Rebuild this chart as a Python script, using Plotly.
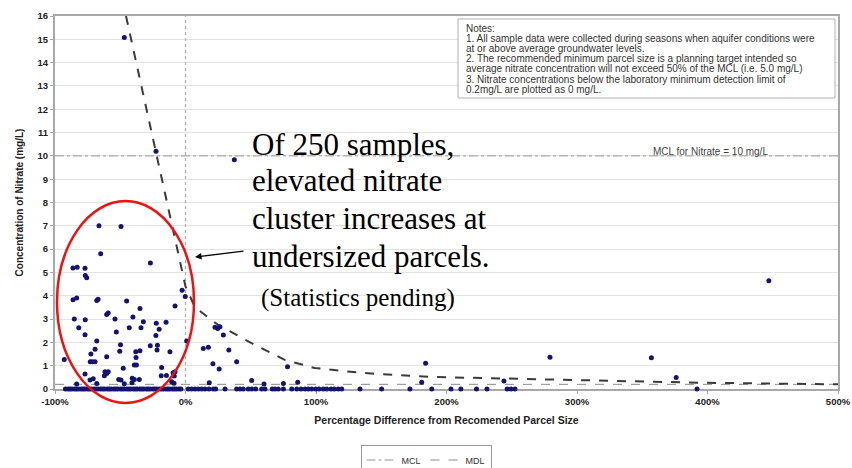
import plotly.graph_objects as go

# ---------------- data ----------------
# samples with detectable nitrate (x = % difference from recommended parcel size, y = mg/L)
det_x = [-92.9, -86.3, -83.0, -77.0, -76.8, -75.7, -86.2, -83.4, -68.0, -67.0,
         -85.2, -76.8, -81.8, -77.0, -68.0, -72.5, -73.0, -71.4, -69.3, -69.3,
         -60.4, -66.3, -49.4, -65.0, -60.4, -59.2, -54.0, -53.0, -49.8, -50.4,
         -61.7, -60.4, -59.2, -62.2, -77.0, -73.2, -70.7, -83.4, -68.0, -49.4,
         -47.7, -46.9, -45.1, -43.1, -40.3, -32.3, -38.1, -34.9, -37.9, -39.2,
         -37.6, -34.9, -34.1, -40.8, -39.2, -35.4, -41.0, -26.9, -22.4, -14.9,
         -20.2, -22.7, -27.0, -21.5, -21.8, -11.9, -18.3, -18.6, -14.6, -9.5,
         -8.6, -8.8, -8.0, -2.6, -0.2, 0.9, -46.9, -22.6, -10.6, -8.0,
         -51.2, 13.6, 17.5, 22.6, 24.7, 26.4, 29.0, 33.2, 39.2, 21.0,
         25.8, 18.2, 50.7, 60.2, 75.0, 78.2, 86.0, 181.0, 184.0, 244.0,
         279.3, 357.0, 376.0, 447.0, 37.4]
det_y = [1.27, 5.19, 5.22, 5.18, 4.87, 4.77, 3.83, 3.90, 3.80, 3.85,
         3.00, 2.97, 2.63, 2.33, 2.06, 1.50, 1.17, 1.17, 1.17, 1.70,
         1.38, 7.00, 6.97, 5.80, 3.20, 3.26, 3.00, 2.45, 1.90, 1.62,
         0.74, 0.67, 0.74, 0.57, 0.64, 0.39, 0.44, 0.21, 0.24, 0.39,
         0.89, 0.22, 3.77, 2.63, 3.09, 2.89, 1.60, 1.64, 1.35, 1.03,
         1.03, 3.45, 2.63, 0.46, 0.41, 0.41, 0.27, 5.41, 2.82, 2.86,
         2.56, 2.30, 1.86, 1.88, 1.67, 1.60, 0.92, 0.57, 0.58, 0.70,
         0.56, 0.25, 3.56, 4.24, 3.97, 2.06, 15.08, 10.20, 0.31, 0.74,
         0.41, 1.74, 1.79, 2.65, 2.60, 2.67, 2.32, 1.67, 1.17, 1.08,
         0.86, 0.27, 0.36, 0.21, 0.24, 0.95, 0.29, 0.29, 1.10, 0.34,
         1.36, 1.34, 0.49, 4.64, 9.83]

# samples below detection limit (plotted as 0 mg/L)
nd_x = [-92, -90, -88.5, -87, -85, -83.5, -82, -80, -78.5, -77, -75, -73.5, -72, -70,
        -68.5, -67, -65, -63.5, -62, -60, -58.5, -57, -55, -53.5, -52, -50, -48.5, -47,
        -45, -43.5, -42, -40, -38.5, -37, -35, -33.5, -32, -30, -28.5, -27, -25, -23.5,
        -22, -20, -18.5, -17, -15, -13.5, -12, -10, -8.5, -7, -5, -3.5,
        2.1, 4.7, 7.3, 9.8, 12.4, 14.9, 18, 21.3, 23.1, 30.3, 39.2, 41.8, 44.3, 48.1,
        50.7, 53.8, 58.4, 60.9, 66.5, 68.6, 71.1, 75, 81.4, 85.2, 88.5, 91.6, 94.1, 96.7,
        99.8, 102.3, 105.6, 108.2, 111.5, 114, 117, 119.7, 133.7, 150.3, 172, 188.7,
        203.4, 211, 223, 231, 246.5, 249.4, 252.5, 392]
nd_y = [0] * len(nd_x)

# recommended-parcel-size curve
curve_x = [-45.6, -22.6, -10, 0, 7.3, 24.9, 50.6, 76, 99, 135, 186, 241, 318, 394, 500]
curve_y = [16, 10.2, 7.0, 4.4, 3.5, 2.75, 1.97, 1.25, 0.9, 0.69, 0.52, 0.45, 0.37, 0.27, 0.2]

mcl_value = 10.0
mdl_value = 0.2
x_range = [-100, 500]
y_range = [0, 16]
x_ticks = [-100, 0, 100, 200, 300, 400, 500]
x_tick_labels = ["-100%", "0%", "100%", "200%", "300%", "400%", "500%"]
y_ticks = list(range(0, 17))

notes = ["Notes:",
         "1. All sample data were collected during seasons when aquifer conditions were",
         "at or above average groundwater levels.",
         "2. The recommended minimum parcel size is a planning target intended so",
         "average nitrate concentration will not exceed 50% of the MCL (i.e. 5.0 mg/L)",
         "3. Nitrate concentrations below the laboratory minimum detection limit of",
         "0.2mg/L are plotted as 0 mg/L."]
callout = ["Of 250 samples,", "elevated nitrate", "cluster increases at", "undersized parcels."]

# ---------------- layout helpers ----------------
W, H = 852, 468
L, R, T, B = 55, 838, 16, 389


def px(x):
    return (x - L) / (R - L)


def py(y):
    return (B - y) / (B - T)


fig = go.Figure()

fig.add_trace(go.Scatter(x=x_range, y=[mcl_value, mcl_value], mode="lines", name="MCL",
                         line=dict(color="#9a9a9a", width=1, dash="dashdot")))
fig.add_trace(go.Scatter(x=x_range, y=[mdl_value, mdl_value], mode="lines", name="MDL",
                         line=dict(color="#8a8a8a", width=1, dash="dash")))
fig.add_trace(go.Scatter(x=[0, 0], y=y_range, mode="lines", showlegend=False,
                         line=dict(color="#b0b0b0", width=1.3, dash="dot"), hoverinfo="skip"))
fig.add_trace(go.Scatter(x=curve_x, y=curve_y, mode="lines", showlegend=False,
                         line=dict(color="#3a3a3a", width=2, dash="dash")))
fig.add_trace(go.Scatter(x=nd_x + det_x, y=nd_y + det_y, mode="markers", showlegend=False,
                         cliponaxis=False,
                         marker=dict(color="#14146e", size=5)))

axis_font = dict(family="Arial, Liberation Sans", size=9.5, color="#222", weight="bold")

fig.update_layout(
    width=W, height=H,
    margin=dict(l=L, r=W - R, t=T, b=H - B, autoexpand=False),
    paper_bgcolor="white", plot_bgcolor="white",
    xaxis=dict(range=x_range, tickvals=x_ticks, ticktext=x_tick_labels, showgrid=False,
               zeroline=False, showline=True, linecolor="#a8a8a8", linewidth=2, mirror=True,
               ticks="outside", ticklen=3, tickcolor="#a8a8a8", tickfont=axis_font,
               layer="below traces", automargin=False,
               title=dict(text="Percentage Difference from Recomended Parcel Size",
                          font=dict(family="Arial, Liberation Sans", size=10.5, color="#222",
                                    weight="bold"), standoff=10)),
    yaxis=dict(range=y_range, tickvals=y_ticks, showgrid=True, gridcolor="#e3e3e3",
               zeroline=False, showline=True, linecolor="#a8a8a8", linewidth=2, mirror=True,
               ticks="outside", ticklen=3, tickcolor="#a8a8a8", tickfont=axis_font,
               layer="below traces", automargin=False,
               title=dict(text="Concentration of Nitrate (mg/L)",
                          font=dict(family="Arial, Liberation Sans", size=10, color="#222",
                                    weight="bold"), standoff=12)),
    legend=dict(orientation="h", x=px(426), y=py(460), xanchor="center", yanchor="middle",
                bordercolor="#999", borderwidth=1, font=dict(family="Arial", size=9, color="#333"),
                itemwidth=30, tracegroupgap=0),
    showlegend=True,
)

shapes = [
    dict(type="rect", xref="paper", yref="paper", x0=px(458), x1=px(835), y0=py(98), y1=py(19),
         line=dict(color="#b0b0b0", width=1), fillcolor="white", layer="above"),
    dict(type="circle", xref="paper", yref="paper", x0=px(57), x1=px(194), y0=py(403), y1=py(201),
         line=dict(color="#ee1111", width=2.5), layer="above"),
]
fig.update_layout(shapes=shapes)

ann = []
note_y = [28, 38.2, 48.4, 58.6, 68.8, 79, 89.2]
for t, yy in zip(notes, note_y):
    ann.append(dict(text=t, xref="paper", yref="paper", x=px(464), y=py(yy), xanchor="left",
                    yanchor="middle", showarrow=False,
                    font=dict(family="Arial, Liberation Sans", size=10, color="#333")))
ann.append(dict(text="MCL for Nitrate = 10 mg/L", xref="paper", yref="paper", x=px(651), y=py(151),
                xanchor="left", yanchor="middle", showarrow=False,
                font=dict(family="Arial, Liberation Sans", size=10, color="#444")))
call_y = [144, 181, 219, 256]
for t, yy in zip(callout, call_y):
    ann.append(dict(text=t, xref="paper", yref="paper", x=px(250), y=py(yy), xanchor="left",
                    yanchor="middle", showarrow=False,
                    font=dict(family="Liberation Serif, Times New Roman", size=31, color="black")))
ann.append(dict(text="(Statistics pending)", xref="paper", yref="paper", x=px(259), y=py(298),
                xanchor="left", yanchor="middle", showarrow=False,
                font=dict(family="Liberation Serif, Times New Roman", size=25, color="black")))
ann.append(dict(text="", xref="paper", yref="paper", x=px(195), y=py(257), ax=50, ay=-6,
                showarrow=True, arrowhead=2, arrowsize=1, arrowwidth=1.3, arrowcolor="black"))
fig.update_layout(annotations=ann)

fig.write_html("out.html", config={"displayModeBar": False},
               post_script="document.body.style.margin='0px';")
